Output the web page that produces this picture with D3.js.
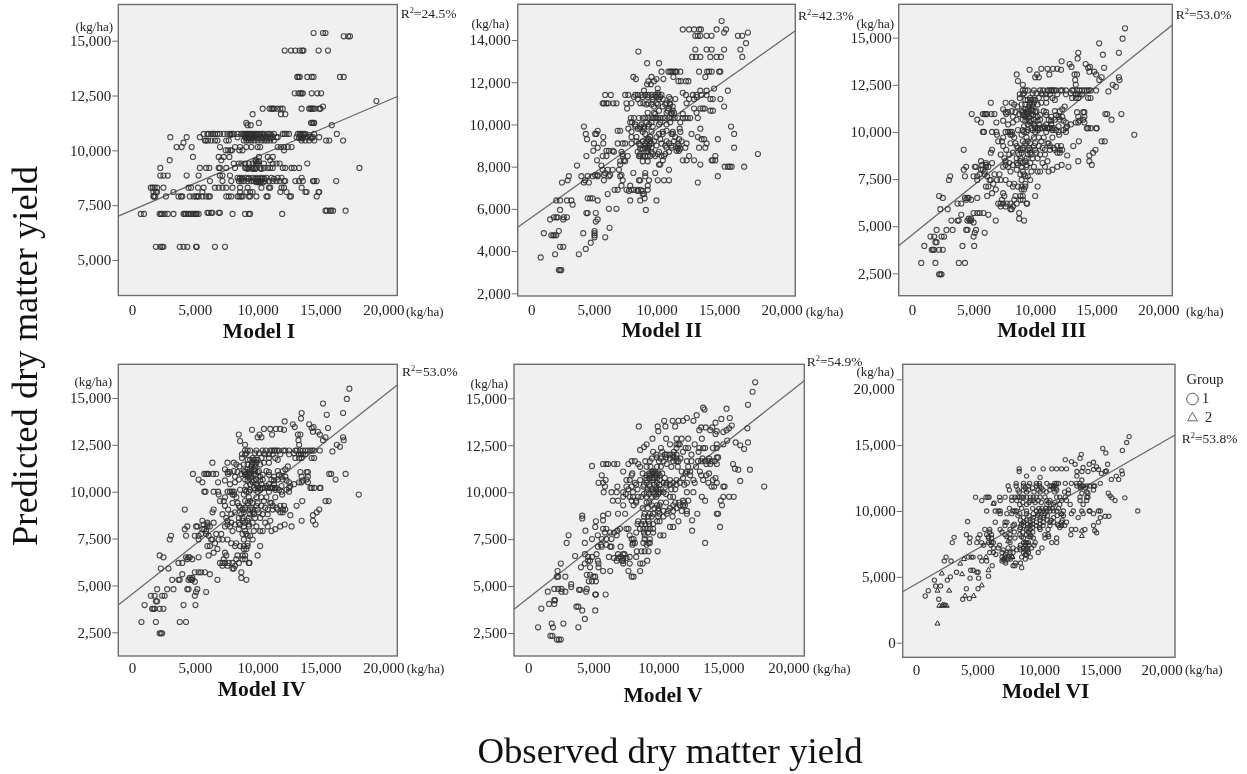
<!DOCTYPE html>
<html><head><meta charset="utf-8"><style>
html,body{margin:0;padding:0;background:#fff}
svg{display:block;filter:blur(.5px)}
text{font-family:"Liberation Serif","Times New Roman",serif}
</style><script src="https://d3js.org/d3.v7.min.js"></script></head><body><svg id="c" width="1247" height="774"></svg>
<script>
// Each row: [predicted (t/ha), observed (t/ha), observed, ...]
const rowsI=[[15.35,14.45,15.2,15.4],[15.2,16.85,17.2,17.35],[14.55,12.15,12.65,13,13.35,13.55,13.65,14.85,15.6],[13.35,13.15,13.25,13.35,13.95,14.3,14.45,16.55,16.85],[12.6,12.95,13.25,13.4,13.5,13.6,14.3,14.75,15.05],[12.25,19.45],[12,15.2],[11.9,10.4,10.95,11.1,11.2,11.3,11.55,11.8,12,13.5,14.1,14.2,14.3,14.4,14.55,14.9,15],[11.65,9.6,11.85,12.2],[11.25,9.1,10.1,14.25,14.35,14.45,14.5],[11.15,9.2,9.45,15.9],[10.75,5.7,6,6.1,6.3,6.45,6.6,6.8,7,7.3,7.6,7.8,7.95,8.1,8.4,8.7,8.85,9,9.1,9.2,9.3,9.4,9.55,9.7,9.85,10,10.15,10.35,10.5,10.8,11,11.3,12,12.15,12.3,12.5,13.2,13.35,13.5,13.65,13.8,14.5,16.3],[10.7,7.85,8.9,9.15,9.45,9.65,9.95,10.2,10.6,11.1,13.4,13.7,14.1],[10.6,3.05,4.35,5.4,8.4,9,9.3,9.6,9.8,10.1,10.4,10.7,11,11.2,11.5,11.6,13.1,13.4,13.6,13.9,14.2,14.4,14.9],[10.55,9.1,9.35,9.55,10,10.3,10.6,11,13.3,13.55,14.3],[10.45,5.8,5.9,6.05,6.3,6.6,6.8,7.5,7.7,8.9,9.1,9.3,9.5,9.75,10,10.3,10.55,10.75,11,11.3,13.5,13.8,14.1,14.5,15.45,15.7,16.8],[10.35,4.1],[10.15,3.55,3.95,4.75,7,8.2,8.6,9.1,9.5,10,10.2,11.6,11.85,12.1,12.4,12.7],[10,7.45,7.65,7.85,7.95,8.55,8.8,12.1],[9.7,4.85,6.9,7.3,7.75,10.1,10.8,11.2],[9.55,3,7.1,9.85,11],[9.5,9.85,10,10.1],[9.4,8.1,8.5,8.7,9,9.3,9.6,9.85,10,10.5,11.2,11.5,11.75,13.95],[9.2,2.25,5.4,5.9,6.15,6.9,7,7.5,8.2,9,9.1,9.3,9.5,9.7,9.9,10.2,10.5,10.8,11,11.2,12,12.2,12.7,12.9,13.3,18.1],[9.15,9.2,9.6,9.8,10.3],[8.85,2.25,2.5,2.85,4.35,5.3,7,7.2,7.8],[8.75,8.4,8.6,8.8,9.1,9.3,9.6,9.9,10.2,10.4,10.7,11.1,11.6,11.9,13.5],[8.7,8.55,8.75,9.25,9.75,10,10.35,10.55,11.3],[8.6,6.2,7.2,7.9,8.5,8.7,8.9,9.2,9.5,9.7,9.95,10.1,10.3,10.6,10.9,11.2,11.5,11.75,12.1,12.2,13,13.3,13.6,14.4,14.5,14.7,16.25],[8.55,9.9,10.05,10.2,10.45],[8.3,1.5,1.65,1.8,2,2.5,4.5,4.7,5.25,5.7,6.6,6.9,7.2,7.5,8,8.6,9.2,10.3,10.9,11,11.9,12.1,13.5],[8.1,1.7,1.9,2,3.3,5.6,8.6,9.1,9.4,9.6,11.8,12.3,13.8,13.9,14.85,14.9],[7.9,1.7,1.75,1.85,2.7,3.7,3.9,4,4.6,4.9,5.1,5.2,5.3,5.6,5.9,6.1,6.2,7.5,7.7,7.9,8.4,8.55,8.7,8.8,9.3,9.4,9.9,10.7,10.8,12.55,12.65,14.7],[7.25,15.4,15.5,15.75,15.85,16,17],[7.15,6,6.1,6.3,6.4,6.9,7],[7.1,0.7,0.95,2.2,2.3,2.4,2.6,2.85,3.3,4.1,4.2,4.3,4.45,4.55,4.7,4.85,5,5.1,5.15,5.3,8,9,9.3,9.4,11.95],[5.6,1.9,2.25,2.4,2.5,3.8,4.1,4.4,5.1,5.15,6.6,7.4]];
const rowsII=[[14.9,15.2],[14.5,12.1,12.6,13,13.4,13.55,14.8,15.55],[14.35,15.4,17.3],[14.2,13.1,13.3,13.5,14,14.4,16.5,16.85],[13.85,17.15],[13.55,13.1,14,14.4,15.4,16.7],[13.45,8.55],[13.2,12.85,13.15,13.5,14.3,14.8,15.15,16.85],[12.9,9.25,10.2],[12.5,10.4,10.95,11.1,11.2,11.35,11.5,11.6,11.9,13.4,14.05,14.2,14.4,15,15.1],[12.25,8.15,9.6,11.35,13.9],[12.15,8.35,10,10.55],[12.05,9.35,9.8,11.75,11.95,12.35,12.55],[11.9,9.25,9.55],[11.7,10.1,14.6],[11.6,9,13.5,14,15.7],[11.5,10.1,12.1],[11.4,5.9,6.35,7.5,7.75,8.3,8.5,8.8,9.1,9.35,9.6,9.9,10.15,10.4,12.35,12.9,13.2,13.6,14],[11.3,8.2,8.9,9.3,9.7,10,10.3,11,13.2],[11.2,8.5,9.7,10.2,10.5,11.1,11.5,12.6,13,14.3,14.5,15.1],[11,5.7,5.8,6,6.15,6.55,6.8,7.6,8,8.7,8.95,9.35,10,10.8,11.05,12.4],[10.95,9.2,9.6,10.1,10.7,11.1],[10.85,9.8,10.5,11.3,15.4],[10.75,7.65,11,13,13.5,13.7,13.85],[10.65,10.2,10.9,11.3,14.3,14.5],[10.55,9.3,9.8,10.8,11.2,11.4,13.2],[10.5,9.9,11.2,12.1],[10.3,7.95,8.2,8.6,8.9,9.1,9.35,9.6,9.75,9.9,10,10.15,10.3,10.5,10.7,11,11.2,11.45,11.7,12.1,12.3,12.5,12.7,13.3],[10.1,7.9,8.05,9.2,9.6,10.3,11.1,11.9],[10,8.3,8.8,9.4,10.2,10.8],[9.9,4.2,8.3,8.7,9,9.3,9.7,15.95],[9.8,7.75,8.5,8.7,9,11.85,13.5],[9.7,5.3,6.9,7.1,10.8],[9.65,8,8.9,9.6,10.5,11.3,11.9],[9.55,4.35,5.1,5.2,9.1,10.2,10.5,11.2,11.3,12.8,16.2],[9.4,5.75,8,8.4,9.5,10,11.5,13.3],[9.3,4.45,9.3,9.4,10.3,11.8,13.6,13.8,14.9],[9.2,8.4,8.9,9.2,9.5,9.8,10.8,11.4,12],[9.1,5,5.75,6.9,7.3,7.5,8,8.6,9.1,9.6,10.4,11,11.7,12.4,14],[9,8.7,9.1,9.4,10,10.7,11.2,11.8],[8.9,5.3,9.1,9.3,9.6,10.8,11.2,11.7,12.3,13.4,13.9,16.2],[8.85,8.7,8.9,9.3,11.7,11.9],[8.75,4.95,6,6.2,6.5,9.3,11.6,11.8],[8.7,6.6,7.2,8.5,9.2,9.6,10.2,11],[8.6,7.3,8.7,9.7,10.1,10.7,18.1],[8.5,4.4,5.7,6,7.3,7.7,8.6,8.7,8.9,9.1,9.3,9.5,9.9,10.4,10.6,12.6,14.7],[8.3,5.25,7.4,10.5,12.1,12.4,13,14.4,14.5,14.7],[8.25,7.1,7.5,8.9,9.3],[8.1,7.1,10.2,10.3,13.5],[8.05,3.65,5.6],[8,15.45,15.7,15.85,16,17],[7.85,5.7,6.1,6.5,7,11],[7.7,5.9,8.15,9.1,9.9],[7.6,5.1,5.3,5.8,6.3,7.2],[7.55,3,4,4.5,4.9,5.3,6.2,7.1,9.1,14.9],[7.35,2.9,4.3,5.8,7.3,8.6,8.7,9.4,10.1,10.6,11],[7.25,2.45,4.2,4.6,13.3],[7.1,7.2,7.9,9.3],[6.9,6.65,6.9,7.6,8,8.2,8.5,8.75,9.3],[6.85,7.8,8.5,8.9],[6.7,6.1,8.9,9],[6.5,4.5,4.7,4.9,9.05],[6.4,2,2.3,2.85,3.2,5.3,7.9,8.7,10],[6.2,3.3],[6,6.2,6.8],[5.95,2.3,9.15],[5.8,4.4,4.5,5.15],[5.6,1.8,2,2.1,2.6,2.85],[5.5,1.5,2.55,5.3],[5.4,5.15],[5.1,6.25],[4.95,2.2,5.05],[4.85,1,4.15,5.05],[4.75,1.6,1.75,1.85,2,5.05],[4.65,5.05,5.9],[4.4,4.75],[4.2,2.3,2.55],[4.1,4.35],[3.85,1.9,3.8],[3.7,0.75],[3.1,2.2,2.3,2.4]];
// Models III and IV show the same point cloud in the reference (both R²=53.0%)
const rowsIIIandIV=[[15.5,17.3],[14.95,17.1],[14.7,15.2],[14.2,13.5,16.8],[14.1,15.5],[13.9,13.45],[13.75,12.15],[13.6,14.1,12.8],[13.45,12.95,14.45],[13.4,15.6,14.3],[13.35,11,11.45,10.5,11.8],[13.3,9.55,12.1],[13.2,14.4,14.8],[13.05,8.5,10.15,11.15,13.2,13.4,14.95],[12.9,10,10.3,15.4,16.8],[12.75,15.2,13.25,16.85],[12.7,8.6],[12.5,9,13.3,16.3],[12.4,16.55],[12.2,9,9.2,9.4,9.9,10.4,10.65,11,11.15,11.3,11.4,11.55,11.7,12.05,12.2,12.5,13,13.1,13.4,13.6,13.8,14,14.2,14.35,14.5,14.95],[12.15,15.95],[12.05,9.1,9.8,10.1,10.5,12.9],[12,8.75,9,10.6,10.9,11.2,11.8,12.5,13.3,13.45,13.6,13.8],[11.8,8.75,9.6,10.3,10.9,11.4,13,13.3,13.5,14.3,14.5],[11.7,9.2,9.4,9.7,9.85,10,11.6],[11.55,6.4,7.6,8.1,9.6,9.9,10.5,10.9],[11.45,8.3,8.9,9.2,9.55,9.75,10.2],[11.35,8.55,9.5,9.8,12.4],[11.2,7.4,9.2,9.4,9.7,12.2],[11.1,8.1,8.9,9.5,9.8,10.1,10.7,11.6,12],[11.05,7.6,7.8,8.4,9,9.3,10,10.9,13.4,13.9,14],[10.95,4.85,5.75,5.9,6,6.1,6.45,6.7,7.65,8.7,9.1,9.4,9.7,15.7,15.85,17],[10.9,9,9.3,9.85,10.4,10.9,11.7],[10.8,8.2,9.2,9.5,10.2,11.3,11.9,12.2,13.5,14],[10.65,5.3,8.5,9,9.9,10.4,11.1,11.6,12,13.9,16.2],[10.6,7.4,9.2,9.5,9.7,10.2,11.3,12.3,13.6],[10.5,5.6,6.85,8.2,9.6,12.5,13.3,13.5,14],[10.4,7.8,9.4,9.9,10.3,10.9,11.3,12.9],[10.3,9.1,10,10.7,11.9,12.6],[10.2,9.7,10,10.2,10.4,10.6,10.8,11,11.1,11.2,11.35,11.5,12.5,14.2,14.3,14.5,14.95,15],[10.1,8.6,9,9.4,9.8,10.2,11.4,11.7,12.3],[10,5.75,5.85,6.5,6.85,7.6,7.8,7.95,8.1,9.1,9.3,10,10.9,11.9,12.5],[9.85,6.9,8,8.15,8.9,11.95,18.05],[9.7,7.4,8.3,9.3,9.9,10.3,10.7,11.4],[9.5,7,7.3,9,9.4,10.5,13.55,15.4,15.65],[9.4,8,8.4,9.2,9.6,10,11,11.1],[9.25,7.4,8.5,9.9,10.3,11.2,11.8,12.1,13.1],[9.15,8.6,9,9.5,10.6,11.5],[9.05,4.2,6.5,7.65,8.8,9,9.4,9.6,10,10.8,11.2,11.6,12,12.2,14.9],[8.9,6.4,8.2,8.9,9.6,10.1,11.8,12,14.7],[8.8,7.2,7.9,8.7,9.4,9.7,10.4,10.8],[8.75,12.6,14.4],[8.6,7.5,8.5,8.8,9.3,9.8,10.2],[8.45,5.6,7.6,8.8,9.2,11,13.5,14.4],[8.35,6,6.5,7.9,8.5,9,9.6,10.6],[8.25,5.7,6,7.6,8.2,8.6,9.3,12.15,14.6],[8.15,4.4,5.1,5.2,6,6.2,7.4,7.8,8.9,9.3,9.9,10.8,11.8,12.7],[8,4.2,5.6,5.75,8.5,11.4],[7.9,5.9,8,9,9.7,10.2,10.4,11.1],[7.75,5.5,5.9,6.7,7.1,8.8,9.1],[7.65,3.1,4.3,5,5.3,6.1,9.2,9.4],[7.45,3,5.3,6.3,6.4,6.9,7.2,7.6,8.9,9.6],[7.25,6.6,7.9,8.3,9.2],[7.1,6,6.2,8.2,8.6,8.9,9.2,10.2],[6.95,6.8,8.9,9.1],[6.75,6.5,7.4],[6.6,2.2,6.1,7.5,8.4,8.8,9,10],[6.5,2.5,4.3,4.5,4.6,5.3],[6.4,4.4,4.8,7.3,8.3,8.8,9],[6.2,3.7,4,7,7.2,7.4,7.7,8,8.5,9.3,9.35],[6.05,7.2,7.6,8.2],[5.9,2.3,2.9,8,8.1],[5.7,5,5.3,5.5,5.8,8.7],[5.6,4,6.2],[5.4,4.6,4.8,8.7],[5.3,3.2,3.7,3.8,4.5,4.7,4.8,6.8,9.1],[5.2,5],[4.8,2,2.8,3.3,4.4,4.5,5.2],[4.65,5.1,5.9],[4.45,1.5,1.8,2.4,2.6,5],[4.15,1.9,2],[3.95,1,4.1,5.05],[3.75,1.6,1.7,1.8,2.2,2.5],[3.05,0.75,1.9,3.8,4.3],[2.45,2.2,2.3,2.4]];
const rowsV=[[15.85,17.45],[15.35,17.25],[14.65,16.9],[14.5,13.45],[14.45,15.25],[14.4,13.55],[14.1,12.95],[13.95,12.2,15.5],[13.9,14.85],[13.8,10.45,11.1,11.55,11.9,12.7],[13.7,14.4],[13.55,15.65],[13.5,8.5,9.95,10.55,11.3],[13.45,13.3,13.65,14.15],[13.4,15.45,16.85],[13.3,13.15,14,15.25],[13.25,10,14.5],[13.2,15],[13.1,14.4],[12.85,9.55,10.6,11.4,11.8,12.3,13.35],[12.75,15.3],[12.65,15.95,16.9],[12.55,9.1,10.9,11.4,11.55,11.65,12.8,14.5,15],[12.5,16.3],[12.4,8.9],[12.35,10.2,11.4,12.1,12.3,13.15,13.45,13.6,14.2,14.5],[12.3,16.6],[12.25,8.6],[12.15,9.6,10.3,11.2,11.9,13.1],[12,9.85,10.5,10.65,10.9,11.15,11.4,12.55],[11.85,9.9,10.6,11.15,14.5,14.6],[11.8,9.5,10.2,10.9,11.4,11.7,13.4,13.9],[11.65,7.95,8.2,9,9.35,10.05,10.4,11.15,11.4,11.55,12.2,12.55,13.05,13.3,13.6,13.85,14.1,14.35],[11.5,5.75,6,6.15,6.6,6.85,7.7,8.45,10.65,13.7,14,14.5,15.75],[11.4,4.9],[11.35,8.6,9.1,9.4,9.9,10.2,11,11.5,12.3,12.9],[11.25,15.9],[11.2,16.15,17.05],[11.1,7.3,9.5,9.6,9.75,11.8,12.2,12.45,13.2],[11,8,8.8,9.3,9.55,9.8,10,10.3,12.1,13.9],[10.9,5.65,7.95,9.1,9.35,9.85,10.1,12.45,13.3,13.7],[10.75,9,9.3,9.5,9.7,9.9,10.5,11.9,14.4],[10.65,5.95,7.55,7.8,8.6,9.1,9.6,10.1,10.9,11.4,12.7,13.45,14.2],[10.6,16.3],[10.5,5.4,5.75,8.2,9.1,9.9,10.4,10.65,11.15,11.65,12.2,12.8,13.85,14.5],[10.4,8.3,8.9,9.3,9.7,10.1,10.6,10.9,11.4,12],[10.3,5.9,6.85,7.55,7.95,8.85,9.35,9.85,14.1,14.3,15,15.1,18.15],[10.15,7.7,8.4,9.2,9.5,9.8,10,10.2,11,11.3],[10,5.8,6.4,6.8,7.3,8.05,9.1,9.6,9.85,10.1,10.4,12.2,12.7],[9.9,7.5,8.9,9.3,9.7,10,10.6],[9.75,7.3,7.8,8.05,8.45,8.7,9.1,9.5,9.85,10.9,11.15,13.35,15,15.45,15.8],[9.55,6.5,6.9,7.95,8.3,11.9,12.3,13.6,14.8],[9.45,8.3,9.1,9.3,10.2,10.6,11.3,11.6,12],[9.3,7.3,8.1,9.5,9.9,10.1,11.15,11.65,11.9,12.05,14.9],[9.15,8.8,9.2,9.7,10,10.9,11.4],[9,10,10.4,10.75,11.15,11.8,12.2],[8.85,6.15,6.9,7.45,8.95,9.35,9.6,10.1,10.65,12.2,13,14.5,14.6],[8.75,4.15,5.75],[8.7,8.9,9.2,9.5,10,10.4,11.1],[8.6,4.15],[8.5,5.75,12.6],[8.45,5.2,8.45,8.85,9.25,9.9,10.1,11.55],[8.3,8.4,8.7,9,9.3,9.6],[8.15,5.15,10.9,11.15,14.75],[8.05,5.75,6,7.05,7.55,7.7,8.6,8.85,9.1,9.35,9.6],[7.95,4.4,6.85,12.6],[7.85,5.9,6.3,6.6,8.3,8.9,9.2,9.6],[7.7,3.1,5.35,6.8,7.8,8.95,10.15,10.4],[7.5,4.9,5.65,6,6.4,7.95,8.1,8.95,9.35],[7.3,2.95,4.35,8.05,8.2,8.85,9.25,9.35,13.6],[7.2,5.6,6,8,9.1],[7.1,5.35,5.65,6.3,6.4,7.1],[6.85,8.35,8.7,8.95,9.25,9.95],[6.7,4.35,5.25,6.9,7.3,7.4],[6.6,3.6],[6.55,4.6,4.9,6.2,7.1,7.8,8.3],[6.5,6.6,6.9,7.3,7.55],[6.35,4.6,4.75,5.35,6.8,7.2,7.3,9.15],[6.2,2.5,4.35,5.4,7.3,7.8,8.6,8.8],[6,4.05,5.4,4.75],[5.8,2.25,5.75,6.3,7.7,8.6],[5.6,4.5,4.75],[5.5,2.2,2.3,2.85,5,5.15,7.95,8.1],[5.25,4.65,4.9,5.2],[5.1,3.3],[4.95,3.3],[4.85,2,2.3,2.55,4.5],[4.8,3.9,4],[4.7,1.5,2.55,2.85,4.45],[4.55,5.15,5.2,5.95],[4.25,2,2.05],[4.05,1.6,2],[3.9,3.7,3.85],[3.8,1],[3.7,4.15,5.15],[3.25,4.35],[3,1.8,2.7],[2.8,0.75,1.9,3.85],[2.35,1.7,1.85],[2.15,2.2,2.35,2.5]];
const rowsVI=[[15.65,17.35],[15.2,17.15],[14.75,15.2],[14.6,16.8],[14.4,15.45],[14.3,13.45],[14,13.35],[13.9,12.15],[13.75,12.65],[13.7,14.45],[13.55,12.95,14.1,15.6],[13.35,14.7],[13.3,13.6],[13.2,8.4,9.55,10.35,11.05,11.45,11.85,12.25],[13.15,14.45,14.85],[13.05,15.5,16.75],[13,8.4,13.1,13.5,14,15.4],[12.85,15.1],[12.8,16.8],[12.65,9,13.1,16.3],[12.55,10.1],[12.4,15.9,16.5],[12.35,13.5],[12.1,8.15,8.75,9.25,9.8,10.05,10.65,11.3,11.45,11.6,12.15,12.65,13.05,13.35,15],[11.9,7.5,8.15,8.75,9.15,9.8,10.05,10.9,11.05,11.2,11.3,13.1,13.35,13.5,13.6,13.9,14.15,14.45,14.55],[11.75,8.9,9.5,10.2,11.15,11.4,13.4,13.8],[11.6,7.6,8.3,8.75,9.15,9.95,10.35,10.9,11.45,12.4,14.45],[11.45,8.4,9,9.6,10.1,10.6,11.3,12.1,13.9],[11.35,12.4,13.5,14,15.65],[11.15,15.8],[11.05,4.85,5.7,5.85,5.95,6.8,7.25,7.8,8.05,8.3,8.45,8.6,8.75,9,9.3,9.55,9.8,10.1,10.5,11.45,11.7,12.15,13.35,13.9,14],[11,15.95,17],[10.8,5.35,6.85,7.8,8.2,9.3,9.55,9.95,10.65,10.9,11.85,12.25,13.35,13.9,16.2],[10.65,8.7,9.2,9.7,10.2,10.8,11.3],[10.6,6.35],[10.5,8.45,9,10.65,11.2,11.7,12.55,13.6],[10.2,7.6,8.6,9.5,10,10.25,10.6,10.85,11.1,11.6],[10,5.75,6.45,6.7,6.85,7.9,8.05,8.2,9,9.8,10.1,10.35,10.65,10.9,11.2,11.45,12,12.8,13.5,14.1,14.15,14.85,15,18.05],[9.8,6.85,7.4,7.8,8.45,9,9.55,9.95,10.5,11.85,12.65,13.6,14.45],[9.65,8.3,9.2,9.9,10.4,10.7,11.5,12],[9.6,15.4,15.7],[9.5,8.75,9.55,10.1,10.35,11.2,13.2,15],[9.3,8.5,9,9.5,10.1,10.7,11,11.9],[9.2,4.2],[9.15,6.45,7.25,7.4,8.75,9.3,9.8,10.35,10.9,11.2,11.85,12.25,14.85],[9,8,8.6,9.1,9.5,10.1,11.5],[8.9,7.25,7.9,8.75,9.3,9.8,10.35,10.9,11.6,11.85,12.1,14.45],[8.75,8.5,9.1,9.5,10.05,11.7],[8.6,5.6,6,6.85,7.65,8.45,9,9.3,10.1,10.75,12.65,13,13.75],[8.5,14.55],[8.4,6,7,8,8.7,9.15,9.5],[8.35,14.7],[8.2,4.1,5.2,5.75,6.15,7.25,7.65,8.45,9,9.3,10.5,10.75,12.6],[8.05,5.9,7.4,8.6,9.2,9.35,10.8],[8,3.1],[7.95,4.4,5.05,5.9,6.15,7.65,8.05,8.75,9.55,10.5,11.45],[7.6,2.95,4.35,4.95,5.35,5.9,6.15,6.3,7.65,8.75,8.9,9,9.15,9.7,11.05,11.45],[7.4,5.5,6.1,6.8,8.5,8.9,9.2,9.6],[7.2,6.3,6.7,7.5,7.9,8.45,8.75,9,9.4,10.25],[7.05,7.1,8.2,8.5,8.9,9.1],[6.85,6,6.3,7,7.4,7.65,7.9,8.75,9.15,9.95],[6.7,6.5,7.3,8.9,9],[6.5,2.45,4.25,4.5,4.65,5.2,7,7.25,7.5,7.8,8.6,9.3],[6.35,7.15,7.5,7.7,8.9],[6.2,2.3,2.85,5.35,5.75,7,7.25],[6.05,7.3,8.1,8.5],[5.85,6.2,7.9,8.05],[5.7,8.6],[5.5,4.45,4.65],[5.35,3.3,4.95,5.05],[5.05,5.9],[5,2.8],[4.9,4.4,5.1],[4.75,1.5,2.55],[4.3,1.6,2],[4.1,4.1,5.05],[3.95,1],[3.55,0.75],[3.35,4.35],[3.3,1.85,3.8]];
const rowsVIgroup2=[[10.55,6.3],[9.75,11.85],[8.5,13.5],[8.1,13.5],[7.7,7.5],[6.5,5.7,7.85],[6.35,3.9],[6.3,7.1],[6,3.6],[5.5,5.9],[5.25,2.1],[5.2,3.75],[4.35,5.35],[3.95,1.75,2.7],[3.55,4,4.7],[2.85,2.2,2.35],[2.8,1.9,2.1,2.5],[1.45,1.75]];
const xTicks=[0,5000,10000,15000,20000];
const yTicksI=[5000,7500,10000,12500,15000];
const yTicksII=[2000,4000,6000,8000,10000,12000,14000];
const yTicksMid=[2500,5000,7500,10000,12500,15000];
const yTicksVI=[0,5000,10000,15000,20000];
const fitI=[7270,.2455],fitII=[5583,.42],fitIII=[4533,.527],fitIV=[4533,.5286],fitV=[4362,.5452],fitVI=[4451,.537];
const titles=["Model I","Model II","Model III","Model IV","Model V","Model VI"];
const r2Labels=["24.5%","42.3%","53.0%","53.0%","54.9%","53.8%"];
const legendGroups=["1","2"];
const axisTitleX="Observed dry matter yield",axisTitleY="Predicted dry matter yield",unit="(kg/ha)";

const layouts=[
{rows:rowsI,fit:fitI,yt:yTicksI,box:[118.3,397.3,4.5,295.5],x:[132,383.3],y:[5000,260,15000,40.7],r2:[400.7,18],yu:[113,31],xu:[406,316],xb:315,title:[259,338],r:2.55},
{rows:rowsII,fit:fitII,yt:yTicksII,box:[517.7,795.3,4.3,296],x:[531.3,781.7],y:[2000,293.3,14000,40],r2:[798,20],yu:[509,28],xu:[805.7,316],xb:315,title:[661.7,337],r:2.55},
{rows:rowsIIIandIV,fit:fitIII,yt:yTicksMid,box:[898.7,1172.3,4.3,295.7],x:[912,1158.3],y:[2500,273.3,15000,37.7],r2:[1175.7,19],yu:[894,28],xu:[1186,316],xb:315,title:[1041.7,337],r:2.55},
{rows:rowsIIIandIV,fit:fitIV,yt:yTicksMid,box:[118.3,397.3,364.3,656],x:[132,383.3],y:[2500,632.3,15000,398],r2:[402,375.7],yu:[112,386],xu:[406.7,673],xb:673,title:[261.7,696],r:2.55},
{rows:rowsV,fit:fitV,yt:yTicksMid,box:[514,804.3,364.3,656],x:[528.3,788.3],y:[2500,633,15000,398.3],r2:[806.7,365.7],yu:[508,388],xu:[813,673],xb:673,title:[663,702],r:2.55},
{rows:rowsVI,fit:fitVI,yt:yTicksVI,box:[902.7,1175,364.3,657.3],x:[916,1161.7],y:[0,642.7,20000,379.3],r2:[1181.7,442.7],yu:[894,376],xu:[1185,674],xb:675,title:[1045.7,698],r:2.15,group2:rowsVIgroup2,topLabelDrop:9}
];
const expand=rows=>rows.flatMap(([y,...xs])=>xs.map(x=>({x:x*1000,y:y*1000})));
const svg=d3.select("#c");
const INK="#222",MARK="#2e2e2e",FRAME="#6e6e6e";

layouts.forEach((p,i)=>{
  const xs=d3.scaleLinear().domain([0,20000]).range(p.x);
  const ys=d3.scaleLinear().domain([p.y[0],p.y[2]]).range([p.y[1],p.y[3]]);
  const [l,r,t,b]=p.box;
  const g=svg.append("g");
  g.append("rect").attr("x",l).attr("y",t).attr("width",r-l).attr("height",b-t).attr("fill","#f0f0f0");
  const yAxis=d3.axisLeft(ys).tickValues(p.yt).tickFormat(d3.format(",")).tickSize(6).tickPadding(1);
  const xAxis=d3.axisBottom(xs).tickValues(xTicks).tickFormat(d3.format(",")).tickSize(0).tickPadding(0);
  const ya=g.append("g").attr("transform",`translate(${l},0)`).call(yAxis);
  const xa=g.append("g").attr("transform",`translate(0,${b})`).call(xAxis);
  ya.select(".domain").remove();xa.select(".domain").remove();
  ya.selectAll("line").attr("stroke",FRAME);
  ya.selectAll("text").attr("font-size",15).attr("fill",INK).style("font-family",'"Liberation Serif"');
  if(p.topLabelDrop) ya.selectAll("text").filter(d=>d===p.yt[p.yt.length-1]).attr("y",p.topLabelDrop).attr("x",-8);
  xa.selectAll("text").attr("font-size",15).attr("fill",INK).attr("dy",0).attr("y",p.xb-b).style("font-family",'"Liberation Serif"');
  // fit line
  const xl=xs.invert(l),xr=xs.invert(r);
  const line=d3.line().x(d=>xs(d)).y(d=>ys(p.fit[0]+p.fit[1]*d));
  g.append("path").attr("d",line([xl,xr])).attr("fill","none").attr("stroke","#666").attr("stroke-width",1.2);
  // points
  g.append("g").selectAll("circle").data(expand(p.rows)).join("circle")
    .attr("cx",d=>xs(d.x)).attr("cy",d=>ys(d.y)).attr("r",p.r)
    .attr("fill","none").attr("stroke",MARK).attr("stroke-width",1.1).attr("stroke-opacity",.85);
  if(p.group2){
    const tri=d3.symbol().type(d3.symbolTriangle).size(11);
    g.append("g").selectAll("path").data(expand(p.group2)).join("path")
      .attr("d",tri()).attr("transform",d=>`translate(${xs(d.x)},${ys(d.y)})`)
      .attr("fill","none").attr("stroke",MARK).attr("stroke-width",1);
  }
  g.append("rect").attr("x",l).attr("y",t).attr("width",r-l).attr("height",b-t).attr("fill","none").attr("stroke",FRAME).attr("stroke-width",1.4);
  // labels
  g.append("text").attr("x",p.yu[0]).attr("y",p.yu[1]).attr("text-anchor","end").attr("font-size",13).attr("fill",INK).text(unit);
  g.append("text").attr("x",p.xu[0]).attr("y",p.xu[1]).attr("font-size",13).attr("fill",INK).text(unit);
  g.append("text").attr("x",p.title[0]).attr("y",p.title[1]).attr("text-anchor","middle").attr("font-size",21.5).attr("font-weight","bold").attr("fill","#111").text(titles[i]);
  const rt=g.append("text").attr("x",p.r2[0]).attr("y",p.r2[1]).attr("font-size",13.5).attr("fill",INK);
  rt.append("tspan").text("R");
  rt.append("tspan").attr("font-size",8.5).attr("dy",-5).text("2");
  rt.append("tspan").attr("dy",5).text("="+r2Labels[i]);
});
// legend
svg.append("text").attr("x",1186.5).attr("y",384).attr("font-size",14.5).attr("fill",INK).text("Group");
svg.append("circle").attr("cx",1192.5).attr("cy",399).attr("r",5.8).attr("fill","none").attr("stroke","#555");
svg.append("text").attr("x",1202).attr("y",403).attr("font-size",14.5).attr("fill",INK).text(legendGroups[0]);
svg.append("path").attr("d",d3.symbol().type(d3.symbolTriangle).size(42)()).attr("transform","translate(1192.5,418)").attr("fill","none").attr("stroke","#666");
svg.append("text").attr("x",1205).attr("y",422).attr("font-size",14.5).attr("fill",INK).text(legendGroups[1]);
// big axis titles
svg.append("text").attr("x",670).attr("y",763).attr("text-anchor","middle").attr("font-size",36.8).attr("fill","#111").text(axisTitleX);
svg.append("text").attr("transform","translate(37,356) rotate(-90)").attr("text-anchor","middle").attr("font-size",36.5).attr("fill","#111").text(axisTitleY);
</script></body></html>
